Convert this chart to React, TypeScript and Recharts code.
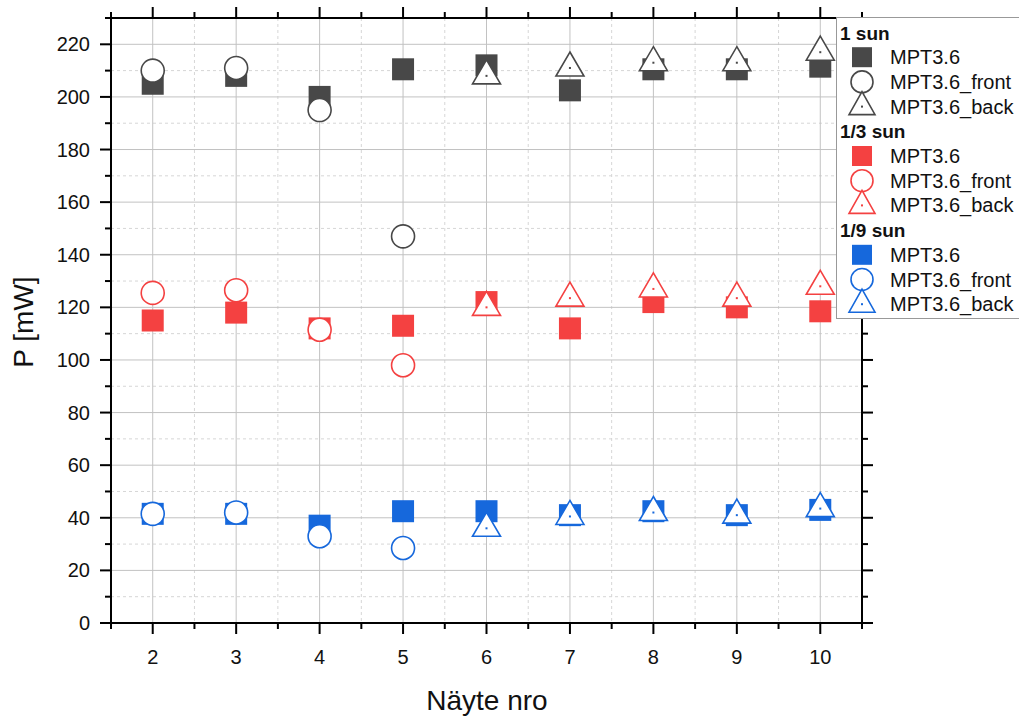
import React from "react";
import { ScatterChart, Scatter, XAxis, YAxis, CartesianGrid, Label } from "recharts";

// sample numbers on the x axis
const samples = [2, 3, 4, 5, 6, 7, 8, 9, 10];
const frontSamples = [2, 3, 4, 5];
const backSamples = [6, 7, 8, 9, 10];

// P [mW]
const sun1Mpt = [205, 208, 200, 210.5, 212, 202.5, 210.5, 210.5, 211.5];
const sun1Front = [210, 211, 195, 147];
const sun1Back = [208, 211, 213, 213, 217];

const sun3Mpt = [115, 118, 112, 113, 122, 112, 122, 120, 118.5];
const sun3Front = [125.5, 126.5, 111.5, 98];
const sun3Back = [120, 123.5, 127, 123.5, 128];

const sun9Mpt = [41.5, 41.5, 37, 42.5, 42.5, 41, 42.5, 41, 43];
const sun9Front = [41.5, 42, 33, 28.5];
const sun9Back = [36, 40.5, 42, 41, 43.5];

const xTicks = [1.5, 2, 2.5, 3, 3.5, 4, 4.5, 5, 5.5, 6, 6.5, 7, 7.5, 8, 8.5, 9, 9.5, 10, 10.5];
const xMajor = [2, 3, 4, 5, 6, 7, 8, 9, 10];
const xMinor = [2.5, 3.5, 4.5, 5.5, 6.5, 7.5, 8.5, 9.5];
const yTicks = [0, 10, 20, 30, 40, 50, 60, 70, 80, 90, 100, 110, 120, 130, 140, 150, 160, 170, 180, 190, 200, 210, 220, 230];
const yMajor = [20, 40, 60, 80, 100, 120, 140, 160, 180, 200, 220];
const yMinor = [10, 30, 50, 70, 90, 110, 130, 150, 170, 190, 210];

const FONT = "'Liberation Sans', Arial, sans-serif";

const groups = [
  { title: "1 sun", color: "#484848", mpt: sun1Mpt, front: sun1Front, back: sun1Back },
  { title: "1/3 sun", color: "#f44141", mpt: sun3Mpt, front: sun3Front, back: sun3Back },
  { title: "1/9 sun", color: "#1668dc", mpt: sun9Mpt, front: sun9Front, back: sun9Back },
];

const pts = (xs: number[], ys: number[]) => xs.map((x, i) => ({ x, y: ys[i] }));

const squareShape = (color: string, s = 22) => (p: any) => (
  <rect x={p.cx - s / 2} y={p.cy - s / 2} width={s} height={s} fill={color} />
);

const circleShape = (color: string, r = 11.5) => (p: any) => (
  <circle cx={p.cx} cy={p.cy} r={r} fill="#fff" stroke={color} strokeWidth={1.6} />
);

const triangleShape = (color: string, up = 16, down = 8, half = 14) => (p: any) => (
  <g>
    <path
      d={`M${p.cx} ${p.cy - up} L${p.cx + half} ${p.cy + down} L${p.cx - half} ${p.cy + down} Z`}
      fill="#fff"
      stroke={color}
      strokeWidth={1.6}
      strokeLinejoin="miter"
    />
    <rect x={p.cx - 1} y={p.cy - 1} width={2} height={2} fill={color} />
  </g>
);

const LeftTick = ({ x, y, payload }: any) => {
  const v = payload.value;
  const major = v % 20 === 0 && v <= 220;
  return (
    <g>
      <line x1={x} x2={x - (major ? 11 : 6)} y1={y} y2={y} stroke="#000" strokeWidth={2} />
      {major && (
        <text x={x - 21} y={y + 7} textAnchor="end" fontSize={20} fontFamily={FONT} fill="#111">
          {v}
        </text>
      )}
    </g>
  );
};

const RightTick = ({ x, y, payload }: any) => {
  const major = payload.value % 20 === 0 && payload.value <= 220;
  return <line x1={x} x2={x + (major ? 11 : 6)} y1={y} y2={y} stroke="#000" strokeWidth={2} />;
};

const BottomTick = ({ x, y, payload }: any) => {
  const v = payload.value;
  const major = Number.isInteger(v);
  return (
    <g>
      <line x1={x} x2={x} y1={y} y2={y + (major ? 11 : 6)} stroke="#000" strokeWidth={2} />
      {major && (
        <text x={x} y={y + 41} textAnchor="middle" fontSize={20} fontFamily={FONT} fill="#111">
          {v}
        </text>
      )}
    </g>
  );
};

const TopTick = ({ x, y, payload }: any) => {
  const major = Number.isInteger(payload.value);
  return <line x1={x} x2={x} y1={y} y2={y - (major ? 11 : 6)} stroke="#000" strokeWidth={2} />;
};

function LegendBox() {
  const rows: any[] = [];
  groups.forEach((g) => {
    rows.push({ kind: "title", label: g.title });
    rows.push({ kind: "square", label: "MPT3.6", color: g.color });
    rows.push({ kind: "circle", label: "MPT3.6_front", color: g.color });
    rows.push({ kind: "triangle", label: "MPT3.6_back", color: g.color });
  });
  return (
    <div
      style={{
        position: "absolute",
        left: 836,
        top: 17,
        width: 200,
        height: 300,
        background: "#fff",
        border: "1px solid #999",
      }}
    >
      <svg width={200} height={300}>
        {rows.map((r, i) => {
          const cy = 14.5 + i * 24.7;
          if (r.kind === "title") {
            return (
              <text key={i} x={3} y={cy + 7} fontSize={19} fontWeight="bold" fontFamily={FONT} fill="#111">
                {r.label}
              </text>
            );
          }
          const p = { cx: 25, cy };
          const sym =
            r.kind === "square"
              ? squareShape(r.color, 20)(p)
              : r.kind === "circle"
              ? circleShape(r.color, 11)(p)
              : triangleShape(r.color, 15, 8, 13)(p);
          return (
            <g key={i}>
              {sym}
              <text x={53} y={cy + 7} fontSize={20} fontFamily={FONT} fill="#111">
                {r.label}
              </text>
            </g>
          );
        })}
      </svg>
    </div>
  );
}

export default function App() {
  return (
    <div
      style={{
        position: "absolute",
        left: 0,
        top: 0,
        width: 1019,
        height: 720,
        overflow: "hidden",
        background: "#fff",
      }}
    >
      <ScatterChart width={1019} height={720} margin={{ top: 17, right: 156, bottom: 96, left: 110 }}>
        <CartesianGrid
          horizontalValues={yMinor}
          verticalValues={xMinor}
          stroke="#d6d6d6"
          strokeDasharray="3 3"
        />
        <CartesianGrid horizontalValues={yMajor} verticalValues={xMajor} stroke="#c2c2c2" />
        <XAxis
          type="number"
          dataKey="x"
          domain={[1.5, 10.5]}
          ticks={xTicks}
          interval={0}
          allowDataOverflow
          height={1}
          tickSize={0}
          tickMargin={0}
          tickLine={false}
          tick={<BottomTick />}
          axisLine={{ stroke: "#000", strokeWidth: 2 }}
        >
          <Label
            content={() => (
              <text x={487} y={710} textAnchor="middle" fontSize={28} fontFamily={FONT} fill="#111">
                Näyte nro
              </text>
            )}
          />
        </XAxis>
        <XAxis
          xAxisId="top"
          orientation="top"
          type="number"
          dataKey="x"
          domain={[1.5, 10.5]}
          ticks={xTicks}
          interval={0}
          allowDataOverflow
          height={1}
          tickSize={0}
          tickMargin={0}
          tickLine={false}
          tick={<TopTick />}
          axisLine={{ stroke: "#000", strokeWidth: 2 }}
        />
        <YAxis
          type="number"
          dataKey="y"
          domain={[0, 230]}
          ticks={yTicks}
          interval={0}
          allowDataOverflow
          width={1}
          tickSize={0}
          tickMargin={0}
          tickLine={false}
          tick={<LeftTick />}
          axisLine={{ stroke: "#000", strokeWidth: 2 }}
        >
          <Label
            content={() => (
              <text
                x={33}
                y={322}
                transform="rotate(-90 33 322)"
                textAnchor="middle"
                fontSize={28}
                fontFamily={FONT}
                fill="#111"
              >
                P [mW]
              </text>
            )}
          />
        </YAxis>
        <YAxis
          yAxisId="right"
          orientation="right"
          type="number"
          dataKey="y"
          domain={[0, 230]}
          ticks={yTicks}
          interval={0}
          allowDataOverflow
          width={1}
          tickSize={0}
          tickMargin={0}
          tickLine={false}
          tick={<RightTick />}
          axisLine={{ stroke: "#000", strokeWidth: 2 }}
        />
        {groups.map((g) => [
          <Scatter
            key={g.title + "-mpt"}
            name={g.title + " MPT3.6"}
            data={pts(samples, g.mpt)}
            shape={squareShape(g.color)}
            isAnimationActive={false}
          />,
          <Scatter
            key={g.title + "-front"}
            name={g.title + " MPT3.6_front"}
            data={pts(frontSamples, g.front)}
            shape={circleShape(g.color)}
            isAnimationActive={false}
          />,
          <Scatter
            key={g.title + "-back"}
            name={g.title + " MPT3.6_back"}
            data={pts(backSamples, g.back)}
            shape={triangleShape(g.color)}
            isAnimationActive={false}
          />,
        ])}
      </ScatterChart>
      <LegendBox />
    </div>
  );
}
